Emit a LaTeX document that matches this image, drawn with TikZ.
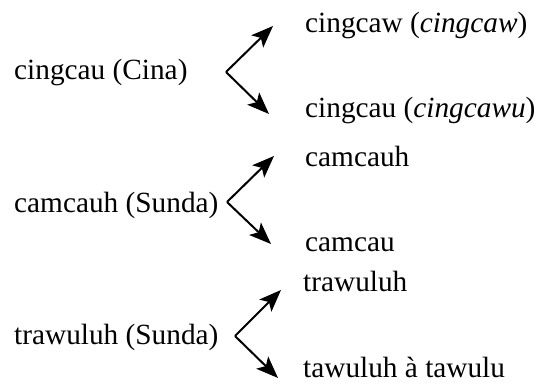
\documentclass[tikz,border=0pt]{standalone}
\usepackage{fontspec}
\setmainfont{Liberation Serif}
\usetikzlibrary{arrows.meta}
\begin{document}
\begin{tikzpicture}[x=1pt,y=1pt,
  lbl/.style={anchor=base west,inner sep=0pt,font=\fontsize{29.3}{35}\selectfont},
  arr/.style={line width=2pt,-{Stealth[length=22pt,width=17pt,inset=5pt]}}]
\useasboundingbox (0,0) rectangle (544,390);
% row 1
\node[lbl] (s1) at (14,310) {cingcau (Cina)};
\node[lbl] (a1) at (305,357) {cingcaw (\textit{cingcaw})};
\node[lbl] (b1) at (305,272) {cingcau (\textit{cingcawu})};
\coordinate (v1) at (226,318);
\coordinate (t1) at (273,364);
\coordinate (u1) at (269,276);
\draw[arr] (v1) -- (t1);
\draw[arr] (v1) -- (u1);
% row 2
\node[lbl] (s2) at (14,177) {camcauh (Sunda)};
\node[lbl] (a2) at (305,223) {camcauh};
\node[lbl] (b2) at (305,138) {camcau};
\coordinate (v2) at (227,188);
\coordinate (t2) at (274,234);
\coordinate (u2) at (271,146);
\draw[arr] (v2) -- (t2);
\draw[arr] (v2) -- (u2);
% row 3
\node[lbl] (s3) at (14,45) {trawuluh (Sunda)};
\node[lbl] (a3) at (303,98) {trawuluh};
\node[lbl] (b3) at (303,12) {tawuluh à tawulu};
\coordinate (v3) at (235,54);
\coordinate (t3) at (281,100);
\coordinate (u3) at (278,12);
\draw[arr] (v3) -- (t3);
\draw[arr] (v3) -- (u3);
\end{tikzpicture}
\end{document}
